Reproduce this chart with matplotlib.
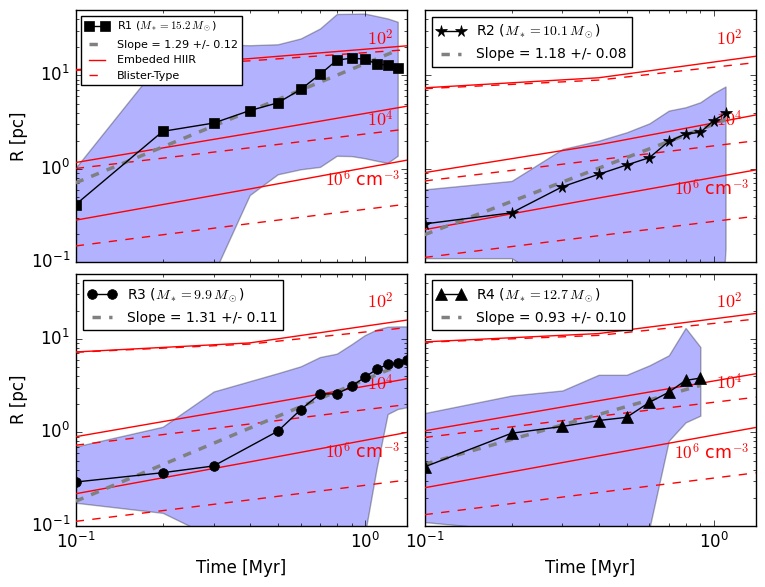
import matplotlib
matplotlib.use("Agg")
import matplotlib.pyplot as plt

plt.style.use('classic')
plt.rcParams['mathtext.fontset'] = 'cm'
plt.rcParams['font.family'] = ['DejaVu Sans']

# ---------------- data ----------------
names = ['R1', 'R2', 'R3', 'R4']
masses = ['15.2', '10.1', '9.9', '12.7']
markers = ['s', '*', 'o', '^']
marker_sizes = [6.5, 8.5, 7, 8]
slope_labels = ['Slope = 1.29 +/- 0.12', 'Slope = 1.18 +/- 0.08',
                'Slope = 1.31 +/- 0.11', 'Slope = 0.93 +/- 0.10']

r1_t = [0.1, 0.2, 0.3, 0.4, 0.5, 0.6, 0.7, 0.8, 0.9, 1.0, 1.1, 1.2, 1.3]
r1_R = [0.416, 2.52, 3.09, 4.2, 5.08, 7.07, 10.25, 14.5, 15.3, 14.9, 13.3, 12.8, 11.9]
r1_up = [1.03, 15.0, 21.5, 21.0, 21.5, 24.8, 31.7, 45.3, 45.5, 45.8, 43.0, 40.6, 37.4]
r1_lo = [0.03, 0.04, 0.075, 0.525, 0.875, 0.99, 1.05, 1.38, 1.37, 1.30, 1.22, 1.16, 1.38]

r2_t = [0.1, 0.2, 0.3, 0.4, 0.5, 0.6, 0.7, 0.8, 0.9, 1.0, 1.1]
r2_R = [0.258, 0.339, 0.645, 0.875, 1.10, 1.32, 1.97, 2.36, 2.46, 3.28, 3.93]
r2_up = [0.604, 0.743, 1.63, 2.0, 2.46, 3.07, 4.2, 4.56, 5.16, 6.45, 7.6]
r2_lo = [0.111, 0.111, 0.05, 0.05, 0.05, 0.05, 0.05, 0.05, 0.05, 0.001, 0.14]

r3_t = [0.1, 0.2, 0.3, 0.5, 0.6, 0.7, 0.8, 0.9, 1.0, 1.1, 1.2, 1.3, 1.4]
r3_R = [0.295, 0.371, 0.438, 1.03, 1.75, 2.58, 2.58, 3.1, 3.9, 4.72, 5.35, 5.56, 6.0]
r3_up = [0.707, 1.15, 2.74, 4.3, 5.09, 6.4, 6.95, 8.77, 10.96, 12.6, 13.5, 13.6, 13.6]
r3_lo = [0.177, 0.138, 0.075, 0.05, 0.05, 0.05, 0.05, 0.05, 0.08, 0.42, 1.57, 1.78, 1.86]

r4_t = [0.1, 0.2, 0.3, 0.4, 0.5, 0.6, 0.7, 0.8, 0.9]
r4_R = [0.428, 0.98, 1.16, 1.34, 1.45, 2.1, 2.69, 3.6, 3.81]
r4_up = [1.61, 2.48, 2.81, 4.13, 4.13, 5.22, 6.68, 13.1, 8.2]
r4_lo = [0.11, 0.09, 0.05, 0.05, 0.05, 0.095, 0.815, 1.28, 1.51]

# power-law fit lines (end points)
fit_t = [[0.1, 1.3], [0.1, 1.1], [0.1, 1.4], [0.1, 0.9]]
fit_R = [[0.71, 18.6], [0.198, 3.35], [0.184, 5.66], [0.456, 3.18]]

# theoretical expansion curves, densities 1e2, 1e4, 1e6 cm^-3
model_t = [0.1, 0.4, 1.4]
r1_embedded = [[11.5, 15.1, 20.7], [1.17, 2.4, 4.68], [0.283, 0.61, 1.24]]
r1_blister = [[11.3, 14.3, 18.8], [1.01, 1.68, 2.67], [0.15, 0.26, 0.42]]
r2_embedded = [[7.36, 9.42, 16.0], [0.912, 1.81, 3.77], [0.224, 0.488, 0.975]]
r2_blister = [[7.2, 8.9, 13.7], [0.743, 1.25, 2.0], [0.113, 0.193, 0.312]]
r3_embedded = [[7.25, 9.06, 15.9], [0.9, 1.89, 3.74], [0.221, 0.484, 1.0]]
r3_blister = [[7.2, 8.8, 13.2], [0.73, 1.23, 1.99], [0.112, 0.19, 0.31]]
r4_embedded = [[9.29, 11.4, 18.7], [1.04, 2.18, 4.24], [0.256, 0.56, 1.13]]
r4_blister = [[9.2, 10.9, 16.3], [0.883, 1.49, 2.38], [0.132, 0.228, 0.37]]

density_labels = [r'$10^2$', r'$10^4$', r'$10^6$ cm$^{-3}$']
label_y = [[24.5, 3.3, 0.75], [24.5, 3.3, 0.6], [24.5, 3.25, 0.62], [24.5, 3.35, 0.6]]

panels = [
    (r1_t, r1_R, r1_up, r1_lo, r1_embedded, r1_blister),
    (r2_t, r2_R, r2_up, r2_lo, r2_embedded, r2_blister),
    (r3_t, r3_R, r3_up, r3_lo, r3_embedded, r3_blister),
    (r4_t, r4_R, r4_up, r4_lo, r4_embedded, r4_blister),
]

# ---------------- figure ----------------
fig, axes = plt.subplots(2, 2, figsize=(7.65, 5.87), dpi=100, sharex=True, sharey=True)
fig.patch.set_facecolor('white')
fig.subplots_adjust(left=0.099, right=0.988, top=0.983, bottom=0.104,
                    wspace=0.053, hspace=0.044)

for i, ax in enumerate(axes.flat):
    t, R, up, lo, emb, bli = panels[i]
    ax.set_xscale('log')
    ax.set_yscale('log')
    ax.fill_between(t, lo, up, facecolor='b', edgecolor='k', alpha=0.3, lw=1, zorder=1)
    ax.plot(t, R, '-', color='k', marker=markers[i], ms=marker_sizes[i], mfc='k',
            mec='k', lw=1,
            label=r'%s ($M_*=%s\,M_\odot$)' % (names[i], masses[i]), zorder=5)
    ax.plot(fit_t[i], fit_R[i], '--', color='gray', lw=2.5, label=slope_labels[i], zorder=4)
    for k in range(3):
        ax.plot(model_t, emb[k], '-', color='r', lw=1,
                label='Embeded HIIR' if k == 0 else None, zorder=3)
    for k in range(3):
        ax.plot(model_t, bli[k], '--', color='r', lw=1,
                label='Blister-Type' if k == 0 else None, zorder=3)
    ax.text(1.26, label_y[i][0], density_labels[0], color='r', fontsize=13,
            ha='right', va='center')
    ax.text(1.26, label_y[i][1], density_labels[1], color='r', fontsize=13,
            ha='right', va='center')
    ax.text(1.33, label_y[i][2], density_labels[2], color='r', fontsize=12.5,
            ha='right', va='center')
    ax.set_xlim(0.1, 1.4)
    ax.set_ylim(0.1, 50)
    if i == 0:
        ax.legend(loc='upper left', fontsize=8, numpoints=2)
    else:
        handles, labels = ax.get_legend_handles_labels()
        ax.legend(handles[:2], labels[:2], loc='upper left', fontsize=10, numpoints=2)
    if i >= 2:
        ax.set_xlabel('Time [Myr]', fontsize=12)
    if i % 2 == 0:
        ax.set_ylabel('R [pc]', fontsize=12, labelpad=2)

fig.savefig('out.png', dpi=100, facecolor='white')
